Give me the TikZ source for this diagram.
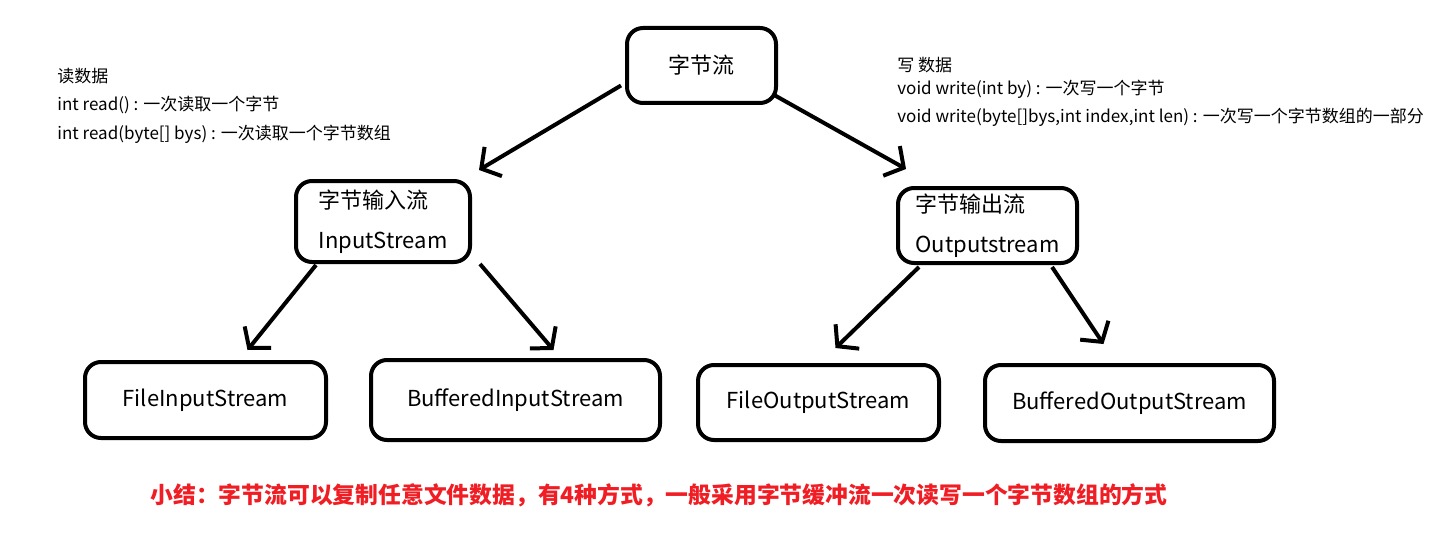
\documentclass[tikz,border=0pt]{standalone}
\usepackage{fontspec}
\setmainfont{Noto Sans CJK SC}
\usetikzlibrary{arrows.meta}
\definecolor{summaryred}{RGB}{240,30,36}

\begin{document}
\begin{tikzpicture}[x=0.5pt, y=-0.5pt,
  box/.style={draw, line width=2pt, rounded corners=8pt, align=left,
    inner sep=0pt, font=\fontsize{11pt}{20pt}\selectfont},
  arr/.style={-{Straight Barb[length=7pt,width=17pt]}, line width=2pt},
  note/.style={anchor=west, inner sep=0pt, font=\fontsize{8.5pt}{10pt}\selectfont}]
  % Canvas
  \useasboundingbox[fill=white] (0,0) rectangle (1454,540);
  % Root
  \node[box, minimum width=74.5pt, minimum height=37.5pt] (byte) at (701.5,65.5) {字节流};
  % Second level
  \node[box, minimum width=87pt, minimum height=40.5pt] (in) at (383,221.5)
    {字节输入流\\InputStream};
  \node[box, minimum width=89.5pt, minimum height=37.5pt] (out) at (987.5,225.5)
    {字节输出流\\Outputstream};
  % Leaves
  \node[box, minimum width=120.5pt, minimum height=38pt] (fis) at (205.5,400) {FileInputStream};
  \node[box, minimum width=144.5pt, minimum height=40pt] (bis) at (515.5,400) {BufferedInputStream};
  \node[box, minimum width=120.5pt, minimum height=37.5pt] (fos) at (818.5,402.5) {FileOutputStream};
  \node[box, minimum width=144.5pt, minimum height=38pt] (bos) at (1129.5,403) {BufferedOutputStream};
  % Arrows
  \draw[arr] ([shift={(-4,20)}]byte.west) -- ([shift={(7,-9)}]in.north east);
  \draw[arr] ([shift={(-3,30)}]byte.east) -- ([shift={(10,-17)}]out.north west);
  \draw[arr] ([shift={(22,1)}]in.south west) -- ([shift={(42,-10)}]fis.north);
  \draw[arr] ([shift={(8,0)}]in.south east) -- ([shift={(38,-8)}]bis.north);
  \draw[arr] ([shift={(23,2)}]out.south west) -- ([shift={(17,-15)}]fos.north);
  \draw[arr] ([shift={(-27,2)}]out.south east) -- ([shift={(-26,-19)}]bos.north);
  % Read notes
  \node[note] (rdTitle) at (57,76) {读数据};
  \node[note] (rdOne) at (57,105) {int read() : 一次读取一个字节};
  \node[note] (rdArr) at (57,134) {int read(byte[] bys) : 一次读取一个字节数组};
  % Write notes
  \node[note] (wrTitle) at (897,65) {写 数据};
  \node[note] (wrOne) at (897,89) {void write(int by) : 一次写一个字节};
  \node[note] (wrArr) at (897,117) {void write(byte[]bys,int index,int len) : 一次写一个字节数组的一部分};
  % Summary
  \node[anchor=west, inner sep=0pt, text=summaryred,
    font=\fontsize{11.4pt}{14pt}\selectfont\bfseries] (sum) at (150,495)
    {小结：字节流可以复制任意文件数据，有4种方式，一般采用字节缓冲流一次读写一个字节数组的方式};
\end{tikzpicture}
\end{document}
